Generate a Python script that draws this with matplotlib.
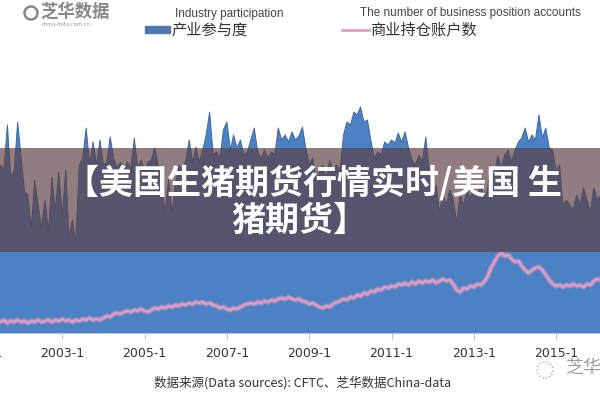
import matplotlib
matplotlib.use("Agg")
import matplotlib.pyplot as plt
from matplotlib.patches import Rectangle, Circle
import pandas as pd

plt.rcParams['font.family'] = ['Noto Sans CJK SC', 'DejaVu Sans']

# Monthly data, 2001-06 .. 2016-02
start_month = '2001-06-01'
participation = [
    67.2, 67.2, 65.2, 83.2, 62.0, 65.2, 84.4, 70.0, 56.4, 55.2,
    42.0, 61.2, 51.2, 42.0, 53.2, 40.4, 62.4, 49.2, 64.4, 46.8,
    65.2, 38.0, 45.2, 36.4, 67.2, 70.0, 82.0, 67.2, 76.4, 67.2,
    77.2, 67.2, 68.4, 78.4, 70.0, 66.0, 68.4, 65.2, 68.4, 66.0,
    78.0, 66.0, 69.2, 65.2, 68.4, 69.2, 74.0, 67.2, 59.2, 48.4,
    61.2, 48.4, 59.2, 67.2, 65.2, 69.2, 77.2, 68.4, 74.4, 68.4,
    73.2, 79.2, 88.4, 71.2, 72.4, 70.0, 81.2, 84.4, 73.2, 79.2,
    74.0, 77.2, 71.2, 72.4, 77.2, 82.0, 72.4, 70.0, 73.2, 70.0,
    72.4, 71.2, 82.0, 77.2, 79.2, 76.4, 80.4, 77.2, 78.8, 82.4,
    74.0, 67.2, 70.0, 61.2, 64.4, 67.2, 62.0, 69.2, 64.4, 67.2,
    65.2, 79.2, 84.4, 83.2, 88.4, 87.2, 90.4, 84.4, 85.2, 77.2,
    70.0, 72.4, 71.2, 76.4, 75.2, 77.2, 76.0, 80.0, 76.4, 80.4,
    74.0, 69.2, 67.2, 71.2, 68.4, 78.4, 65.2, 53.2, 59.2, 48.4,
    55.2, 51.2, 57.2, 53.2, 44.4, 55.2, 51.2, 57.2, 54.0, 58.0,
    55.2, 59.2, 54.0, 57.2, 67.2, 62.0, 71.2, 66.0, 71.2, 73.2,
    68.4, 73.2, 76.4, 78.0, 82.0, 76.4, 79.2, 77.2, 87.2, 78.0,
    82.0, 74.0, 73.2, 64.4, 67.2, 51.2, 53.2, 51.2, 49.2, 55.2,
    51.2, 58.0, 53.2, 48.4, 58.0, 53.2, 55.2,
]
accounts = [
    120, 110, 130, 100, 120, 110, 130, 110, 120, 100,
    120, 110, 130, 110, 120, 130, 110, 130, 120, 140,
    120, 130, 110, 130, 120, 140, 130, 150, 130, 140,
    130, 150, 170, 160, 190, 200, 190, 210, 220, 210,
    230, 220, 240, 220, 210, 230, 250, 240, 260, 250,
    270, 260, 280, 270, 290, 280, 300, 290, 310, 300,
    310, 290, 300, 280, 270, 250, 260, 240, 230, 250,
    240, 260, 280, 290, 300, 290, 310, 300, 320, 310,
    330, 320, 340, 350, 340, 360, 340, 330, 340, 320,
    310, 290, 300, 280, 260, 250, 270, 260, 290, 310,
    320, 340, 330, 360, 350, 380, 370, 400, 390, 420,
    410, 440, 430, 460, 450, 470, 460, 490, 480, 500,
    480, 510, 490, 520, 500, 520, 510, 530, 500, 520,
    540, 520, 530, 490, 430, 410, 450, 440, 470, 460,
    490, 480, 510, 560, 650, 710, 770, 800, 770, 780,
    740, 710, 720, 670, 630, 600, 630, 650, 660, 630,
    580, 530, 490, 470, 480, 460, 480, 470, 490, 470,
    480, 460, 490, 480, 520, 540, 530,
]
tick_years = [2001, 2003, 2005, 2007, 2009, 2011, 2013, 2015]
tick_labels = [f"{y}-1" for y in tick_years]

dates = pd.date_range(start_month, periods=len(participation), freq='MS')

W, H = 600, 400
fig = plt.figure(figsize=(6, 4), dpi=100)
fig.patch.set_facecolor('white')

ax = fig.add_axes([-30 / W, (H - 333) / H, 630 / W, (333 - 90) / H])
ax.fill_between(dates, 0, participation, color='#4c81c3', linewidth=0, zorder=2)
ax.plot(dates, participation, color='#40689f', lw=0.7, zorder=2)
ax.set_ylim(0, 97.2)
ax.set_xlim(pd.Timestamp('2000-10-04'), pd.Timestamp('2016-01-25'))

ax2 = ax.twinx()
ax2.plot(dates, accounts, color='#f0a8cc', lw=3.6, alpha=0.45, zorder=3)
ax2.plot(dates, accounts, color='#e89ac0', lw=1.6, zorder=4)
ax2.set_ylim(0, 2430)

for a in (ax, ax2):
    for s in ('top', 'left', 'right'):
        a.spines[s].set_visible(False)
    a.set_yticks([])
    a.patch.set_visible(False)
ax.spines['bottom'].set_color('#b9c4d6')
ax2.spines['bottom'].set_visible(False)

ax.set_xticks([pd.Timestamp(f"{y}-01-01") for y in tick_years])
ax.set_xticklabels(tick_labels, fontsize=9, color='#333333', family=['DejaVu Sans'])
ax.tick_params(axis='x', length=4, color='#b9c4d6', pad=6)

# Legend / header
fig.add_artist(Rectangle((145 / W, (H - 33) / H), 25 / W, 7 / H, transform=fig.transFigure,
                         color='#4f77ad', zorder=6))
fig.text(172 / W, (H - 30) / H, '产业参与度', fontsize=11, color='#333333', va='center', ha='left')
fig.text(175 / W, (H - 14) / H, 'Industry participation', fontsize=8.5, color='#444444',
         va='center', ha='left', family=['Liberation Sans'])
fig.add_artist(plt.Line2D([342 / W, 369 / W], [(H - 30) / H, (H - 30) / H], transform=fig.transFigure,
                          color='#e89ac0', lw=2, zorder=6))
fig.text(370 / W, (H - 30) / H, '商业持仓账户数', fontsize=11, color='#333333', va='center', ha='left')
fig.text(360 / W, (H - 13) / H, 'The number of business position accounts', fontsize=8.5,
         color='#444444', va='center', ha='left', family=['Liberation Sans'])

# Logo
fig.add_artist(Circle((31 / 100, (H - 13) / 100), 0.065, transform=fig.dpi_scale_trans,
                      fill=False, ec='#888888', lw=1.8, zorder=6))
fig.text(40 / W, (H - 12) / H, '芝华数据', fontsize=12.5, color='#888888', va='center', ha='left',
         weight='bold')
fig.text(42 / W, (H - 25) / H, 'china-data.com.cn', fontsize=3.8, color='#999999', va='center',
         ha='left', family=['DejaVu Sans'])

# Source
fig.text(303 / W, (H - 383) / H, '数据来源(Data sources): CFTC、芝华数据China-data', fontsize=9,
         color='#333333', va='center', ha='center')

# Watermark bottom right
fig.add_artist(Circle((545 / 100, (H - 370) / 100), 0.08, transform=fig.dpi_scale_trans,
                      fill=False, ec='#aaaaaa', lw=1, ls=':', zorder=6))
fig.text(565 / W, (H - 368) / H, '芝华', fontsize=13, color='#9a9a9a', va='center', ha='left')

# Banner overlay
fig.add_artist(Rectangle((0, (H - 252) / H), 1, 104 / H, transform=fig.transFigure,
                         facecolor=(91 / 255, 61 / 255, 66 / 255), alpha=0.67, lw=0, zorder=8))
fig.text(313 / W, (H - 183) / H, '【美国生猪期货行情实时/美国 生', fontsize=24.5, color='white',
         weight='bold', va='center', ha='center', zorder=9)
fig.text(299 / W, (H - 220) / H, '猪期货】', fontsize=24.5, color='white',
         weight='bold', va='center', ha='center', zorder=9)

fig.savefig('out.png', dpi=100, facecolor='white')
